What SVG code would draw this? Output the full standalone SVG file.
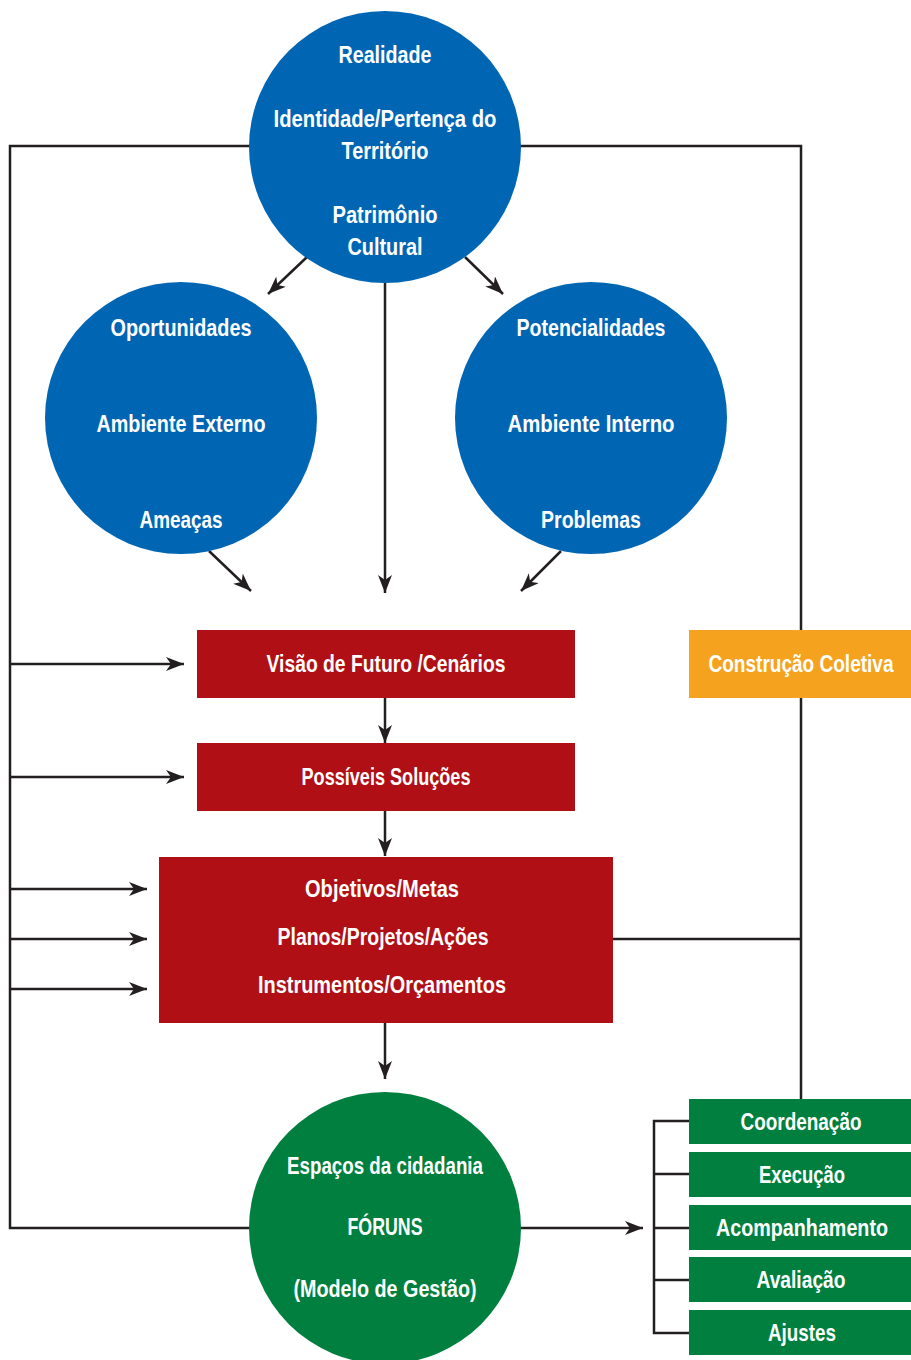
<svg xmlns="http://www.w3.org/2000/svg" width="911" height="1360" viewBox="0 0 911 1360">
<defs>
<marker id="ah" markerUnits="userSpaceOnUse" markerWidth="19" markerHeight="15" refX="18" refY="7" orient="auto">
<path d="M0,0 L18,7 L0,14 L5,7 z" fill="#231f20"/>
</marker>
<style>
.ln{fill:none;stroke:#231f20;stroke-width:2.5}
.ar{fill:none;stroke:#231f20;stroke-width:2.5;marker-end:url(#ah)}
.t{font-family:"Liberation Sans",Arial,sans-serif;font-weight:bold;font-size:24px;fill:#fff;text-anchor:middle}
.blue{fill:#0066b3}
.red{fill:#b00f16}
.green{fill:#007f3f}
.orange{fill:#f5a31e}
</style>
</defs>
<rect width="911" height="1360" fill="#fff"/>
<g id="connectors">
<polyline class="ln" points="250,146 10,146 10,1228 252,1228"/>
<polyline class="ln" points="520,146 801,146 801,1099"/>
<line class="ln" x1="613" y1="939" x2="801" y2="939"/>
<line class="ar" x1="307" y1="257" x2="268" y2="294"/>
<line class="ar" x1="465" y1="257" x2="503" y2="294"/>
<line class="ar" x1="385" y1="283" x2="385" y2="593"/>
<line class="ar" x1="209" y1="551" x2="251" y2="591"/>
<line class="ar" x1="561" y1="551" x2="521" y2="591"/>
<line class="ar" x1="10" y1="664" x2="184" y2="664"/>
<line class="ar" x1="10" y1="777" x2="184" y2="777"/>
<line class="ar" x1="10" y1="889" x2="147" y2="889"/>
<line class="ar" x1="10" y1="939" x2="147" y2="939"/>
<line class="ar" x1="10" y1="989" x2="147" y2="989"/>
<line class="ar" x1="385" y1="698" x2="385" y2="743"/>
<line class="ar" x1="385" y1="811" x2="385" y2="856"/>
<line class="ar" x1="385" y1="1023" x2="385" y2="1079"/>
<line class="ar" x1="520" y1="1228" x2="643" y2="1228"/>
<polyline class="ln" points="689,1121 654,1121 654,1333 689,1333"/>
<line class="ln" x1="654" y1="1174" x2="689" y2="1174"/>
<line class="ln" x1="654" y1="1228" x2="689" y2="1228"/>
<line class="ln" x1="654" y1="1280" x2="689" y2="1280"/>
</g>
<g id="realidade">
<circle class="blue" cx="385" cy="147" r="136"/>
<text class="t" x="385" y="63" textLength="93" lengthAdjust="spacingAndGlyphs">Realidade</text>
<text class="t" x="385" y="127" textLength="223" lengthAdjust="spacingAndGlyphs">Identidade/Pertença do</text>
<text class="t" x="385" y="159" textLength="87" lengthAdjust="spacingAndGlyphs">Território</text>
<text class="t" x="385" y="223" textLength="105" lengthAdjust="spacingAndGlyphs">Patrimônio</text>
<text class="t" x="385" y="255" textLength="75" lengthAdjust="spacingAndGlyphs">Cultural</text>
</g>
<g id="externo">
<circle class="blue" cx="181" cy="418" r="136"/>
<text class="t" x="181" y="336" textLength="141" lengthAdjust="spacingAndGlyphs">Oportunidades</text>
<text class="t" x="181" y="432" textLength="169" lengthAdjust="spacingAndGlyphs">Ambiente Externo</text>
<text class="t" x="181" y="528" textLength="83" lengthAdjust="spacingAndGlyphs">Ameaças</text>
</g>
<g id="interno">
<circle class="blue" cx="591" cy="418" r="136"/>
<text class="t" x="591" y="336" textLength="149" lengthAdjust="spacingAndGlyphs">Potencialidades</text>
<text class="t" x="591" y="432" textLength="167" lengthAdjust="spacingAndGlyphs">Ambiente Interno</text>
<text class="t" x="591" y="528" textLength="100" lengthAdjust="spacingAndGlyphs">Problemas</text>
</g>
<g id="visao">
<rect class="red" x="197" y="630" width="378" height="68"/>
<text class="t" x="386" y="672" textLength="239" lengthAdjust="spacingAndGlyphs">Visão de Futuro /Cenários</text>
</g>
<g id="solucoes">
<rect class="red" x="197" y="743" width="378" height="68"/>
<text class="t" x="386" y="785" textLength="169" lengthAdjust="spacingAndGlyphs">Possíveis Soluções</text>
</g>
<g id="objetivos">
<rect class="red" x="159" y="857" width="454" height="166"/>
<text class="t" x="382" y="897" textLength="154" lengthAdjust="spacingAndGlyphs">Objetivos/Metas</text>
<text class="t" x="383" y="945" textLength="211" lengthAdjust="spacingAndGlyphs">Planos/Projetos/Ações</text>
<text class="t" x="382" y="993" textLength="248" lengthAdjust="spacingAndGlyphs">Instrumentos/Orçamentos</text>
</g>
<g id="construcao">
<rect class="orange" x="689" y="630" width="222" height="68"/>
<text class="t" x="801" y="672" textLength="185" lengthAdjust="spacingAndGlyphs">Construção Coletiva</text>
</g>
<g id="foruns">
<circle class="green" cx="385" cy="1228" r="136"/>
<text class="t" x="385" y="1174" textLength="196" lengthAdjust="spacingAndGlyphs">Espaços da cidadania</text>
<text class="t" x="385" y="1235" textLength="75" lengthAdjust="spacingAndGlyphs">FÓRUNS</text>
<text class="t" x="385" y="1297" textLength="183" lengthAdjust="spacingAndGlyphs">(Modelo de Gestão)</text>
</g>
<g id="coordenacao">
<rect class="green" x="689" y="1099" width="222" height="45"/>
<text class="t" x="801" y="1130" textLength="121" lengthAdjust="spacingAndGlyphs">Coordenação</text>
</g>
<g id="execucao">
<rect class="green" x="689" y="1152" width="222" height="45"/>
<text class="t" x="802" y="1183" textLength="86" lengthAdjust="spacingAndGlyphs">Execução</text>
</g>
<g id="acompanhamento">
<rect class="green" x="689" y="1205" width="222" height="45"/>
<text class="t" x="802" y="1236" textLength="172" lengthAdjust="spacingAndGlyphs">Acompanhamento</text>
</g>
<g id="avaliacao">
<rect class="green" x="689" y="1257" width="222" height="45"/>
<text class="t" x="801" y="1288" textLength="89" lengthAdjust="spacingAndGlyphs">Avaliação</text>
</g>
<g id="ajustes">
<rect class="green" x="689" y="1310" width="222" height="45"/>
<text class="t" x="802" y="1341" textLength="68" lengthAdjust="spacingAndGlyphs">Ajustes</text>
</g>
</svg>
